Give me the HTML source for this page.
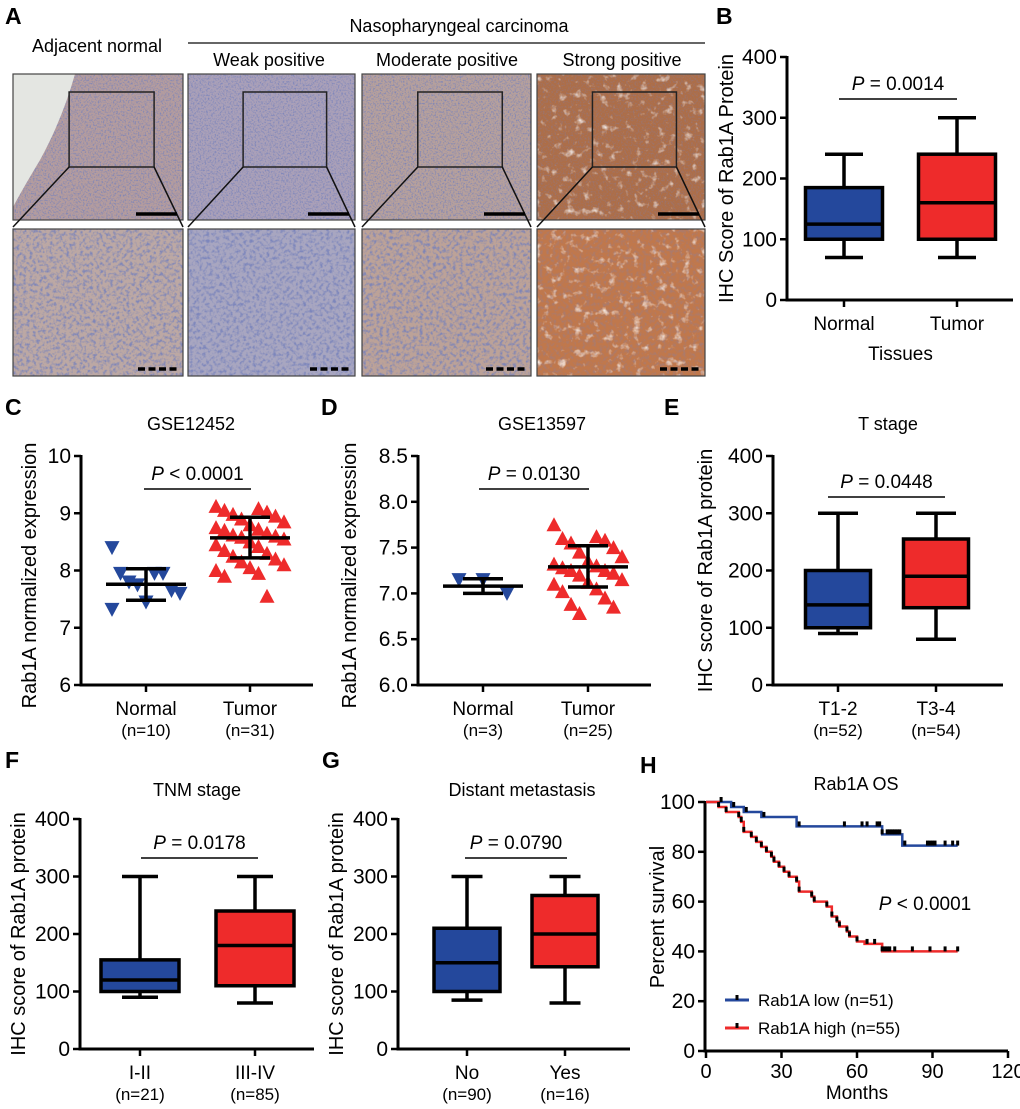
<!DOCTYPE html>
<html><head><meta charset="utf-8"><style>
html,body{margin:0;padding:0;background:#fff;}
svg{display:block;font-family:"Liberation Sans",Arial,sans-serif;}
</style></head><body>
<svg id="fig" width="1020" height="1109" viewBox="0 0 1020 1109">
<defs>
<filter id="texBlue" x="0" y="0" width="100%" height="100%">
<feTurbulence type="fractalNoise" baseFrequency="0.6" numOctaves="2" seed="3"/>
<feColorMatrix type="matrix" values="0 0 0 0 0.18  0 0 0 0 0.22  0 0 0 0 0.5  0 0 0 3 -1.4"/>
</filter>
<filter id="texWhite" x="0" y="0" width="100%" height="100%">
<feTurbulence type="fractalNoise" baseFrequency="0.12" numOctaves="3" seed="8"/>
<feColorMatrix type="matrix" values="0 0 0 0 1  0 0 0 0 1  0 0 0 0 1  0 0 0 3 -1.75"/>
</filter>
<filter id="texBig" x="0" y="0" width="100%" height="100%">
<feTurbulence type="fractalNoise" baseFrequency="0.3" numOctaves="2" seed="5"/>
<feColorMatrix type="matrix" values="0 0 0 0 0.18  0 0 0 0 0.22  0 0 0 0 0.5  0 0 0 3 -1.35"/>
</filter>
</defs>

<!-- Panel A -->
<g>
<text x="5" y="24" font-size="23" font-weight="bold">A</text>
<text x="459" y="32" font-size="18" text-anchor="middle">Nasopharyngeal carcinoma</text>
<line x1="188" y1="43" x2="705" y2="43" stroke="#333" stroke-width="1.5"/>
<text x="97" y="52" font-size="18" text-anchor="middle">Adjacent normal</text>
<text x="269" y="66" font-size="18" text-anchor="middle">Weak positive</text>
<text x="447" y="66" font-size="18" text-anchor="middle">Moderate positive</text>
<text x="622" y="66" font-size="18" text-anchor="middle">Strong positive</text>
<g id="ihc"></g>
</g>

<g id="charts"></g>
</svg>

<script>
// ---------- Panel B data ----------
const bCats = ['Normal', 'Tumor'];
const bMin = [70, 70];
const bQ1 = [100, 100];
const bMed = [125, 160];
const bQ3 = [185, 240];
const bMax = [240, 300];
// ---------- Panel E data ----------
const eCats = ['T1-2', 'T3-4'];
const eN = ['(n=52)', '(n=54)'];
const eMin = [90, 80];
const eQ1 = [100, 135];
const eMed = [140, 190];
const eQ3 = [200, 255];
const eMax = [300, 300];
// ---------- Panel F data ----------
const fCats = ['I-II', 'III-IV'];
const fN = ['(n=21)', '(n=85)'];
const fMin = [90, 80];
const fQ1 = [100, 110];
const fMed = [120, 180];
const fQ3 = [155, 240];
const fMax = [300, 300];
// ---------- Panel G data ----------
const gCats = ['No', 'Yes'];
const gN = ['(n=90)', '(n=16)'];
const gMin = [85, 80];
const gQ1 = [100, 143];
const gMed = [150, 200];
const gQ3 = [210, 267];
const gMax = [300, 300];
const boxTicks = [0, 100, 200, 300, 400];
// ---------- Panel C data ----------
const cCats = ['Normal', 'Tumor'];
const cN = ['(n=10)', '(n=31)'];
const cNormal = [8.4, 7.95, 7.95, 7.95, 7.8, 7.65, 7.75, 7.6, 7.45, 7.32];
const cTumor = [9.12, 9.08, 9.05, 9.02, 8.98, 8.95, 8.9, 8.85, 8.8, 8.75, 8.72, 8.7, 8.65, 8.62, 8.6, 8.58, 8.55, 8.5, 8.45, 8.42, 8.35, 8.3, 8.25, 8.2, 8.15, 8.1, 8.05, 8.0, 7.95, 7.9, 7.55];
const cMean = [7.76, 8.57];
const cSdLo = [7.48, 8.22];
const cSdHi = [8.03, 8.93];
const cTicks = [6, 7, 8, 9, 10];
// ---------- Panel D data ----------
const dCats = ['Normal', 'Tumor'];
const dN = ['(n=3)', '(n=25)'];
const dNormal = [7.15, 7.15, 7.0];
const dTumor = [7.75, 7.62, 7.6, 7.58, 7.55, 7.5, 7.45, 7.4, 7.35, 7.32, 7.3, 7.28, 7.25, 7.25, 7.22, 7.2, 7.15, 7.12, 7.1, 7.05, 7.02, 6.95, 6.88, 6.85, 6.78];
const dMean = [7.08, 7.29];
const dSdLo = [7.0, 7.07];
const dSdHi = [7.16, 7.52];
const dTicks = [6.0, 6.5, 7.0, 7.5, 8.0, 8.5];
// ---------- Panel H data ----------
const hLowT = [0, 10, 15, 22, 36, 70, 78, 100];
const hLowS = [100, 98, 96, 94, 90.2, 87, 82.5, 82.5];
const hLowCens = [6, 11, 16, 23, 37, 55, 62, 64, 68, 69, 70, 72, 73, 74, 75, 76, 77, 79, 88, 89, 90, 91, 95, 98, 100];
const hHighT = [0, 5, 8, 13, 14, 15, 18, 20, 22, 24, 26, 27, 29, 31, 33, 36, 37, 42, 43, 48, 50, 52, 53, 56, 57, 60, 63, 70, 100];
const hHighS = [100, 98, 96, 94, 92, 88, 86, 84, 82, 80, 78, 76, 74, 72, 70, 68, 64, 62, 60, 58, 54, 52, 50, 48, 46, 44, 43, 40, 40];
const hHighCens = [5, 8, 13, 14, 15, 18, 20, 22, 24, 26, 27, 29, 31, 33, 36, 37, 42, 43, 48, 50, 52, 53, 56, 57, 60, 64, 67, 70, 71, 72, 73, 75, 82, 89, 95, 100];
const hXTicks = [0, 30, 60, 90, 120];
const hYTicks = [0, 20, 40, 60, 80, 100];

const NS = 'http://www.w3.org/2000/svg';
const BLUE = '#24489c', RED = '#ee2b2b';
function mk(parent, tag, attrs, txt) {
  const el = document.createElementNS(NS, tag);
  for (const k in attrs) el.setAttribute(k, attrs[k]);
  if (txt !== undefined) el.textContent = txt;
  parent.appendChild(el);
  return el;
}
const charts = document.getElementById('charts');
const ihc = document.getElementById('ihc');

// ---------- IHC images ----------
const colX = [13, 188, 362, 537];
const colW = [170, 167, 169, 168];
const baseTop = ['#b49c9e', '#aaa0b8', '#b6a09c', '#ad6e48'];
const baseBot = ['#bca8a4', '#a8a6c0', '#bca298', '#c0784c'];
const imgNames = ['adjacent-normal', 'weak-positive', 'moderate-positive', 'strong-positive'];
for (let i = 0; i < 4; i++) {
  const x = colX[i], w = colW[i];
  const r1 = mk(ihc, 'rect', {x: x, y: 74, width: w, height: 146, fill: baseTop[i]});
  
  
  mk(ihc, 'rect', {x: x, y: 74, width: w, height: 146, filter: 'url(#texBlue)', opacity: i === 3 ? 0.35 : 0.85});
  if (i === 3) mk(ihc, 'rect', {x: x, y: 74, width: w, height: 146, filter: 'url(#texWhite)', opacity: 0.8});
  if (i === 0) mk(ihc, 'path', {d: 'M' + (x) + ',74 L75,74 Q62,120 40,160 Q22,190 13,207 Z', fill: '#e4e6e2'});
  const r2 = mk(ihc, 'rect', {x: x, y: 229, width: w, height: 147, fill: baseBot[i]});
  
  
  mk(ihc, 'rect', {x: x, y: 229, width: w, height: 147, filter: 'url(#texBig)', opacity: i === 3 ? 0.3 : 0.85});
  if (i === 3) mk(ihc, 'rect', {x: x, y: 229, width: w, height: 147, filter: 'url(#texWhite)', opacity: 0.8});
  mk(ihc, 'rect', {x: x, y: 74, width: w, height: 146, fill: 'none', stroke: '#444', 'stroke-width': 1.2});
  mk(ihc, 'rect', {x: x, y: 229, width: w, height: 147, fill: 'none', stroke: '#444', 'stroke-width': 1.2});
  const bx1 = x + w * 0.33, bx2 = x + w * 0.83;
  const ib = mk(ihc, 'rect', {x: bx1, y: 92, width: bx2 - bx1, height: 75, fill: 'none', stroke: '#222', 'stroke-width': 1.5});
  
  
  mk(ihc, 'line', {x1: bx1, y1: 167, x2: x, y2: 227, stroke: '#111', 'stroke-width': 1.5});
  mk(ihc, 'line', {x1: bx2, y1: 167, x2: x + w, y2: 227, stroke: '#111', 'stroke-width': 1.5});
  const sb = mk(ihc, 'line', {x1: x + w - 47, y1: 214, x2: x + w - 6, y2: 214, stroke: '#000', 'stroke-width': 3.5});
  
  
  const sd = mk(ihc, 'line', {x1: x + w - 45, y1: 369, x2: x + w - 5, y2: 369, stroke: '#000', 'stroke-width': 3.5, 'stroke-dasharray': '7,3.5'});
  
  
}

function pText(g, x, y, val) {
  const t = mk(g, 'text', {x: x, y: y, 'font-size': 19, 'text-anchor': 'middle'});
  mk(t, 'tspan', {'font-style': 'italic'}, 'P');
  mk(t, 'tspan', {}, ' ' + val);
  
  
}

function yAxis(g, ax, yTop, yBot, ticks, fmt, scale) {
  const l = mk(g, 'line', {x1: ax, y1: yTop - 1, x2: ax, y2: yBot + 1.5, stroke: '#000', 'stroke-width': 3});
  
  
  ticks.forEach(v => {
    const y = scale(v);
    mk(g, 'line', {x1: ax - 7, y1: y, x2: ax, y2: y, stroke: '#000', 'stroke-width': 2.5});
    const t = mk(g, 'text', {x: ax - 10, y: y + 7, 'font-size': 21, 'text-anchor': 'end'}, fmt(v));
    
    
  });
}
function xAxis(g, ax, xEnd, yBot, cx) {
  const l = mk(g, 'line', {x1: ax - 1.5, y1: yBot, x2: xEnd, y2: yBot, stroke: '#000', 'stroke-width': 3});
  
  
  cx.forEach(x => mk(g, 'line', {x1: x, y1: yBot, x2: x, y2: yBot + 7, stroke: '#000', 'stroke-width': 2.5}));
}
function yTitle(g, x, y, txt) {
  const t = mk(g, 'text', {x: x, y: y, 'font-size': 20, 'text-anchor': 'middle', transform: 'rotate(-90 ' + x + ' ' + y + ')'}, txt);
  
  
}
function label(g, x, y, txt) {
  const t = mk(g, 'text', {x: x, y: y, 'font-size': 23, 'font-weight': 'bold'}, txt);
  
  
}
function title(g, x, y, txt) {
  const t = mk(g, 'text', {x: x, y: y, 'font-size': 18, 'text-anchor': 'middle'}, txt);
  
  
}
function catLabels(g, cx, y, cats, ns) {
  cats.forEach((c, i) => {
    const t = mk(g, 'text', {x: cx[i], y: y, 'font-size': 19, 'text-anchor': 'middle'}, c);
    
    
    if (ns) {
      const n = mk(g, 'text', {x: cx[i], y: y + 21, 'font-size': 17, 'text-anchor': 'middle'}, ns[i]);
      
      
    }
  });
}

function boxChart(cfg, cats, mins, q1, med, q3, maxs) {
  const g = mk(charts, 'g', {});
  
  
  const sc = v => cfg.y0 - (v / 400) * (cfg.y0 - cfg.yTop);
  yAxis(g, cfg.ax, cfg.yTop, cfg.y0, boxTicks, v => String(v), sc);
  xAxis(g, cfg.ax, cfg.xEnd, cfg.y0, cfg.cx);
  const cols = [BLUE, RED];
  cats.forEach((c, i) => {
    const x = cfg.cx[i], hw = cfg.boxW / 2, cw = cfg.capW / 2;
    mk(g, 'line', {x1: x, y1: sc(maxs[i]), x2: x, y2: sc(q3[i]), stroke: '#000', 'stroke-width': 3.5});
    mk(g, 'line', {x1: x, y1: sc(mins[i]), x2: x, y2: sc(q1[i]), stroke: '#000', 'stroke-width': 3.5});
    mk(g, 'line', {x1: x - cw, y1: sc(maxs[i]), x2: x + cw, y2: sc(maxs[i]), stroke: '#000', 'stroke-width': 3.5});
    mk(g, 'line', {x1: x - cw, y1: sc(mins[i]), x2: x + cw, y2: sc(mins[i]), stroke: '#000', 'stroke-width': 3.5});
    const b = mk(g, 'rect', {x: x - hw, y: sc(q3[i]), width: cfg.boxW, height: sc(q1[i]) - sc(q3[i]), fill: cols[i], stroke: '#000', 'stroke-width': 3.5});
    
    
    mk(g, 'line', {x1: x - hw, y1: sc(med[i]), x2: x + hw, y2: sc(med[i]), stroke: '#000', 'stroke-width': 3.5});
  });
  mk(g, 'line', {x1: cfg.pl[0], y1: cfg.py, x2: cfg.pl[1], y2: cfg.py, stroke: '#000', 'stroke-width': 1.5});
  pText(g, (cfg.pl[0] + cfg.pl[1]) / 2, cfg.py - 9, cfg.p);
  yTitle(g, cfg.ytx, (cfg.yTop + cfg.y0) / 2, cfg.ytitle);
  label(g, cfg.lx, cfg.ly, cfg.label);
  if (cfg.title) title(g, cfg.tx, cfg.ty, cfg.title);
  catLabels(g, cfg.cx, cfg.y0 + 30, cats, cfg.ns);
  if (cfg.xtitle) {
    const t = mk(g, 'text', {x: (cfg.cx[0] + cfg.cx[1]) / 2, y: cfg.y0 + 60, 'font-size': 19, 'text-anchor': 'middle'}, cfg.xtitle);
    
    
  }
}

boxChart({name: 'panel-b', ax: 787, y0: 300, yTop: 57, xEnd: 1013, cx: [844, 957], boxW: 77, capW: 38, pl: [839, 957], py: 99, p: '= 0.0014', ytx: 733, ytitle: 'IHC Score of Rab1A Protein', lx: 716, ly: 24, label: 'B', xtitle: 'Tissues'}, bCats, bMin, bQ1, bMed, bQ3, bMax);
boxChart({name: 'panel-e', ax: 773, y0: 685, yTop: 456, xEnd: 1003, cx: [838, 936], boxW: 65, capW: 40, pl: [828, 945], py: 497, p: '= 0.0448', ytx: 712, ytitle: 'IHC score of Rab1A protein', lx: 664, ly: 415, label: 'E', title: 'T stage', tx: 888, ty: 430, ns: eN}, eCats, eMin, eQ1, eMed, eQ3, eMax);
boxChart({name: 'panel-f', ax: 80, y0: 1049, yTop: 819, xEnd: 314, cx: [140, 255], boxW: 78, capW: 36, pl: [141, 258], py: 858, p: '= 0.0178', ytx: 25, ytitle: 'IHC score of Rab1A protein', lx: 5, ly: 768, label: 'F', title: 'TNM stage', tx: 197, ty: 796, ns: fN}, fCats, fMin, fQ1, fMed, fQ3, fMax);
boxChart({name: 'panel-g', ax: 398, y0: 1049, yTop: 819, xEnd: 630, cx: [467, 565], boxW: 66, capW: 31, pl: [465, 567], py: 858, p: '= 0.0790', ytx: 343, ytitle: 'IHC score of Rab1A protein', lx: 322, ly: 768, label: 'G', title: 'Distant metastasis', tx: 522, ty: 796, ns: gN}, gCats, gMin, gQ1, gMed, gQ3, gMax);

function scatterChart(cfg, cats, groups, means, lo, hi, ticks) {
  const g = mk(charts, 'g', {});
  
  
  const sc = v => cfg.y0 - (v - cfg.vmin) / (cfg.vmax - cfg.vmin) * (cfg.y0 - cfg.yTop);
  yAxis(g, cfg.ax, cfg.yTop, cfg.y0, ticks, cfg.fmt, sc);
  xAxis(g, cfg.ax, cfg.xEnd, cfg.y0, cfg.cx);
  groups.forEach((vals, gi) => {
    const cx = cfg.cx[gi];
    vals.forEach((v, i) => {
      const off = vals.length < 5 ? (i - (vals.length - 1) / 2) * 24 : (((i * 5) % 9) - 4) * 8.5;
      const x = cx + off, y = sc(v);
      const pts = gi === 0
        ? (x - 7.5) + ',' + (y - 6.5) + ' ' + (x + 7.5) + ',' + (y - 6.5) + ' ' + x + ',' + (y + 7.5)
        : (x - 7.5) + ',' + (y + 6.5) + ' ' + (x + 7.5) + ',' + (y + 6.5) + ' ' + x + ',' + (y - 7.5);
      const p = mk(g, 'polygon', {points: pts, fill: gi === 0 ? BLUE : RED});
      
      
    });
  });
  cats.forEach((c, i) => {
    const x = cfg.cx[i];
    mk(g, 'line', {x1: x - 40, y1: sc(means[i]), x2: x + 40, y2: sc(means[i]), stroke: '#000', 'stroke-width': 3.5});
    mk(g, 'line', {x1: x, y1: sc(lo[i]), x2: x, y2: sc(hi[i]), stroke: '#000', 'stroke-width': 3.5});
    mk(g, 'line', {x1: x - 20, y1: sc(lo[i]), x2: x + 20, y2: sc(lo[i]), stroke: '#000', 'stroke-width': 3.5});
    mk(g, 'line', {x1: x - 20, y1: sc(hi[i]), x2: x + 20, y2: sc(hi[i]), stroke: '#000', 'stroke-width': 3.5});
  });
  mk(g, 'line', {x1: cfg.pl[0], y1: cfg.py, x2: cfg.pl[1], y2: cfg.py, stroke: '#000', 'stroke-width': 1.5});
  pText(g, (cfg.pl[0] + cfg.pl[1]) / 2, cfg.py - 9, cfg.p);
  yTitle(g, cfg.ytx, (cfg.yTop + cfg.y0) / 2 + 5, 'Rab1A normalized expression');
  label(g, cfg.lx, 415, cfg.label);
  title(g, cfg.tx, 430, cfg.title);
  catLabels(g, cfg.cx, cfg.y0 + 30, cats, cfg.ns);
}
scatterChart({name: 'panel-c', ax: 81, y0: 685, yTop: 456, vmin: 6, vmax: 10, xEnd: 313, cx: [146, 250], pl: [144, 251], py: 489, p: '< 0.0001', ytx: 36, lx: 5, label: 'C', title: 'GSE12452', tx: 191, ns: cN, fmt: v => String(v)}, cCats, [cNormal, cTumor], cMean, cSdLo, cSdHi, cTicks);
scatterChart({name: 'panel-d', ax: 418, y0: 685, yTop: 456, vmin: 6, vmax: 8.5, xEnd: 651, cx: [483, 588], pl: [479, 589], py: 489, p: '= 0.0130', ytx: 356, lx: 321, label: 'D', title: 'GSE13597', tx: 542, ns: dN, fmt: v => v.toFixed(1)}, dCats, [dNormal, dTumor], dMean, dSdLo, dSdHi, dTicks);

// ---------- Panel H ----------
(function () {
  const g = mk(charts, 'g', {});
  
  
  const ax = 705, y0 = 1051, yTop = 802, xEnd = 1008;
  const sx = t => 706 + t / 120 * (1008 - 706);
  const sy = s => y0 - s / 100 * (y0 - yTop);
  yAxis(g, ax, yTop, y0, hYTicks, v => String(v), sy);
  const xl = mk(g, 'line', {x1: ax - 1.5, y1: y0, x2: xEnd, y2: y0, stroke: '#000', 'stroke-width': 3});
  
  
  hXTicks.forEach(t => {
    mk(g, 'line', {x1: sx(t), y1: y0, x2: sx(t), y2: y0 + 7, stroke: '#000', 'stroke-width': 2.5});
    const tl = mk(g, 'text', {x: sx(t), y: y0 + 27, 'font-size': 20, 'text-anchor': 'middle'}, String(t));
    
    
  });
  function stepPath(T, S) {
    let d = 'M' + sx(T[0]) + ',' + sy(S[0]);
    for (let i = 1; i < T.length; i++) d += ' H' + sx(T[i]) + ' V' + sy(S[i]);
    return d;
  }
  function survAt(T, S, t) { let s = S[0]; for (let i = 0; i < T.length; i++) if (T[i] <= t) s = S[i]; return s; }
  const lo = mk(g, 'path', {d: stepPath(hLowT, hLowS), fill: 'none', stroke: BLUE, 'stroke-width': 2.5});
  
  
  const hi = mk(g, 'path', {d: stepPath(hHighT, hHighS), fill: 'none', stroke: RED, 'stroke-width': 2.5});
  
  
  hLowCens.forEach(t => {
    const r = mk(g, 'rect', {x: sx(t) - 1.5, y: sy(survAt(hLowT, hLowS, t)) - 5, width: 3, height: 5, fill: '#000'});
    
    
  });
  hHighCens.forEach(t => {
    const r = mk(g, 'rect', {x: sx(t) - 1.5, y: sy(survAt(hHighT, hHighS, t)) - 5, width: 3, height: 5, fill: '#000'});
    
    
  });
  pText(g, 925, 910, '< 0.0001');
  yTitle(g, 664, 917, 'Percent survival');
  label(g, 640, 773, 'H');
  title(g, 856, 790, 'Rab1A OS');
  const mt = mk(g, 'text', {x: 857, y: 1099, 'font-size': 19, 'text-anchor': 'middle'}, 'Months');
  
  
  const leg = [['Rab1A low (n=51)', BLUE, 1000], ['Rab1A high (n=55)', RED, 1028]];
  leg.forEach(l => {
    const ln = mk(g, 'line', {x1: 725, y1: l[2], x2: 749, y2: l[2], stroke: l[1], 'stroke-width': 3});
    
    
    mk(g, 'rect', {x: 735.5, y: l[2] - 5, width: 3, height: 5, fill: '#000'});
    const t = mk(g, 'text', {x: 758, y: l[2] + 6, 'font-size': 17}, l[0]);
    
    
  });
})();
</script>
</body></html>
